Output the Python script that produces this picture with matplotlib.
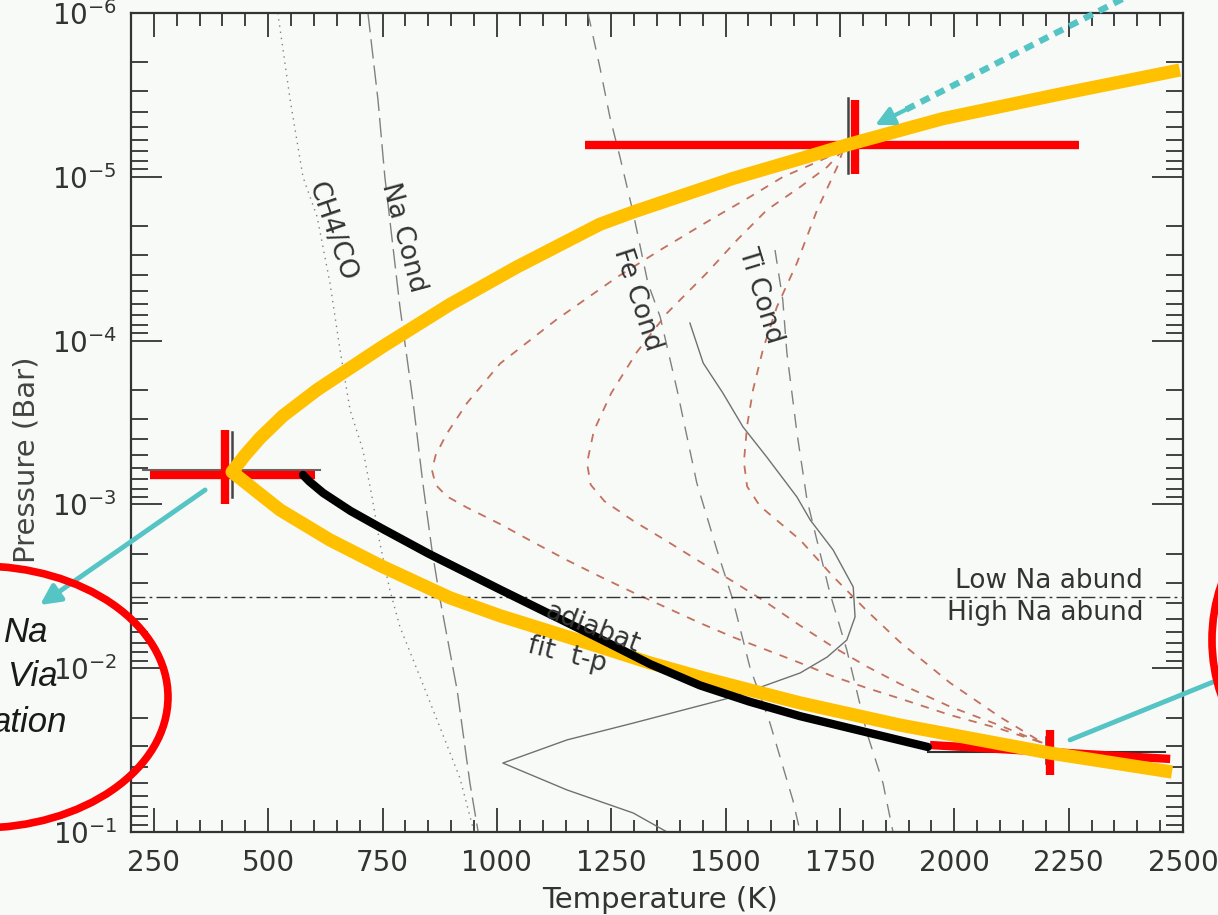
import numpy as np
import matplotlib.pyplot as plt
from matplotlib.patches import Ellipse
from matplotlib.lines import Line2D
from matplotlib.ticker import MultipleLocator, LogLocator, NullFormatter

plt.rcParams['lines.scale_dashes'] = False
plt.rcParams['mathtext.fontset'] = 'dejavusans'
plt.rcParams['font.family'] = ['DejaVu Sans']

# all pressures are log10(P / bar), temperatures in K

# fitted T-P profile (yellow)
fit_T = [2493, 2231, 1975, 1772, 1663, 1516, 1298, 1225, 1044, 897, 751, 607, 532, 482, 449, 421,
         526, 635, 744, 897, 1007, 1116, 1225, 1335, 1444, 1553, 1663, 1881, 2209, 2476]
fit_logp = [-5.652, -5.505, -5.355, -5.200, -5.110, -4.990, -4.785, -4.710, -4.450, -4.220, -3.965,
            -3.700, -3.540, -3.405, -3.300, -3.198,
            -2.966, -2.783, -2.628, -2.430, -2.320, -2.225, -2.130, -2.032, -1.946, -1.867, -1.788,
            -1.653, -1.482, -1.366]

# adiabat (black)
adi_T = [576, 590, 620, 680, 744, 850, 1007, 1225, 1335, 1444, 1553, 1663, 1881, 1942]
adi_logp = [-3.180, -3.140, -3.070, -2.960, -2.860, -2.700, -2.480, -2.180, -2.025, -1.895, -1.795,
            -1.707, -1.560, -1.519]

# model profile with inversion (thin grey)
inv_T = [1422, 1451, 1494, 1538, 1590, 1656, 1685, 1735, 1779, 1783, 1765, 1722, 1663, 1516, 1298,
         1153, 1013, 1153, 1298, 1372]
inv_logp = [-4.107, -3.863, -3.680, -3.473, -3.289, -3.045, -2.905, -2.722, -2.496, -2.313, -2.172,
            -2.068, -1.971, -1.824, -1.665, -1.562, -1.421, -1.257, -1.116, -1.0]

# condensation / chemistry curves
ch4_T = [521, 548, 576, 607, 635, 657, 679, 707, 727, 744, 766, 788, 832, 876, 919, 950]
ch4_logp = [-6.0, -5.469, -4.999, -4.755, -4.352, -3.943, -3.576, -3.332, -3.045, -2.764, -2.477,
            -2.252, -1.946, -1.635, -1.330, -1.0]
na_T = [718, 740, 755, 788, 817, 838, 858, 876, 913, 941, 959]
na_logp = [-6.0, -5.469, -4.999, -4.205, -3.619, -3.131, -2.722, -2.416, -1.867, -1.299, -1.0]
fe_T = [1199, 1225, 1247, 1269, 1298, 1330, 1357, 1394, 1437, 1481, 1516, 1553, 1597, 1647, 1663]
fe_logp = [-6.0, -5.670, -5.365, -5.121, -4.779, -4.352, -4.144, -3.698, -3.131, -2.722, -2.416,
           -2.007, -1.665, -1.195, -1.0]
ti_T = [1608, 1625, 1634, 1656, 1678, 1728, 1765, 1809, 1844, 1866]
ti_logp = [-4.553, -4.248, -3.924, -3.436, -3.027, -2.459, -2.111, -1.604, -1.299, -1.0]

# trial profiles through the two fixed points (brown dashed)
trial_a_T = [1757, 1700, 1625, 1553, 1466, 1357, 1263, 1131, 1007, 935, 890, 866, 858, 866, 890, 935,
             1007, 1079, 1153, 1225, 1298, 1372, 1444, 1516, 1590, 1663, 1735, 1809, 1881, 1991, 2100,
             2194]
trial_a_logp = [-5.164, -5.090, -4.999, -4.877, -4.736, -4.553, -4.388, -4.130, -3.860, -3.620,
                -3.430, -3.300, -3.210, -3.120, -3.050, -2.980, -2.880, -2.770, -2.660, -2.560,
                -2.462, -2.368, -2.276, -2.190, -2.111, -2.032, -1.950, -1.879, -1.815, -1.714,
                -1.630, -1.543]
trial_b_T = [1757, 1722, 1663, 1590, 1525, 1459, 1372, 1306, 1250, 1212, 1197, 1205, 1235, 1298,
             1372, 1444, 1516, 1590, 1663, 1735, 1809, 1881, 1991, 2100, 2194]
trial_b_logp = [-5.164, -5.060, -4.938, -4.797, -4.614, -4.413, -4.168, -3.930, -3.680, -3.450,
                -3.253, -3.120, -3.020, -2.900, -2.775, -2.650, -2.530, -2.400, -2.260, -2.130,
                -2.010, -1.905, -1.765, -1.650, -1.543]
trial_c_T = [1757, 1744, 1700, 1656, 1612, 1582, 1560, 1547, 1540, 1547, 1575, 1663, 1735, 1809,
             1881, 1991, 2100, 2194]
trial_c_logp = [-5.164, -5.060, -4.797, -4.474, -4.205, -3.950, -3.700, -3.480, -3.259, -3.110,
                -2.990, -2.783, -2.560, -2.350, -2.160, -1.910, -1.702, -1.543]

# Na abundance boundary
na_bound_logp = -2.435

# measured points: horizontal bars (T range at logp) and vertical bars (logp range at T)
hbar_T_lo = [241, 1193]
hbar_T_hi = [602, 2273]
hbar_logp = [-3.18, -5.194]
vbar_T = [406, 1783, 2209]
vbar_logp_lo = [-3.454, -5.469, -1.623]
vbar_logp_hi = [-3.002, -5.017, -1.348]
slant_T = [1947, 2472]
slant_logp = [-1.531, -1.446]
# original thin error bars
orig_h_T = [226, 613]
orig_h_logp = -3.21
orig_v_T = [421, 1768, 2200]
orig_v_lo = [-3.44, -5.481, -1.580]
orig_v_hi = [-3.045, -5.023, -1.421]
orig_low_T = [1942, 2461]
orig_low_logp = -1.488

x_ticks = [250, 500, 750, 1000, 1250, 1500, 1750, 2000, 2250, 2500]

bg = '#f8faf8'
yellow = '#ffc000'
red = '#ff0000'
cyan = '#55c4c4'
brown = '#c4705e'
grey = '#808080'
W, H = 1218, 915


def P(v):
    return 10.0 ** np.asarray(v)


fig = plt.figure(figsize=(W / 100, H / 100), dpi=100, facecolor=bg)
ax = fig.add_axes([131 / W, 83 / H, 1052 / W, 819 / H])
ax.set_facecolor(bg)
ax.set_yscale('log')
ax.set_xlim(200, 2500)
ax.set_ylim(1e-1, 1e-6)

# background curves
ax.plot(ch4_T, P(ch4_logp), color=grey, lw=1.0, dashes=(1, 3.5))
ax.plot(na_T, P(na_logp), color=grey, lw=1.0, dashes=(14, 5))
ax.plot(fe_T, P(fe_logp), color=grey, lw=1.0, dashes=(10, 7))
ax.plot(ti_T, P(ti_logp), color=grey, lw=1.0, dashes=(10, 7))
ax.plot(inv_T, P(inv_logp), color='#707070', lw=1.0)
for tt, pp in [(trial_a_T, trial_a_logp), (trial_b_T, trial_b_logp), (trial_c_T, trial_c_logp)]:
    ax.plot(tt, P(pp), color=brown, lw=1.3, dashes=(6, 6))

ax.axhline(10 ** na_bound_logp, color='#333333', lw=1.0, dashes=(10, 3, 2, 3))
ax.annotate('Low Na abund', (2413, 10 ** na_bound_logp), xytext=(0, 2), textcoords='offset points',
            ha='right', va='bottom', fontsize=19, color='#333333')
ax.annotate('High Na abund', (2413, 10 ** na_bound_logp), xytext=(0, -2), textcoords='offset points',
            ha='right', va='top', fontsize=19, color='#333333')

# original thin bars
ax.plot(orig_h_T, P([orig_h_logp] * 2), color='#666666', lw=1.5)
ax.plot(orig_low_T, P([orig_low_logp] * 2), color='#333333', lw=1.5)
for t, lo, hi in zip(orig_v_T, orig_v_lo, orig_v_hi):
    ax.plot([t, t], P([lo, hi]), color='#444444', lw=1.8)

# red bars
for lo, hi, p in zip(hbar_T_lo, hbar_T_hi, hbar_logp):
    ax.plot([lo, hi], P([p, p]), color=red, lw=6, solid_capstyle='butt')
ax.plot(slant_T, P(slant_logp), color=red, lw=6, solid_capstyle='butt')
for t, lo, hi in zip(vbar_T, vbar_logp_lo, vbar_logp_hi):
    ax.plot([t, t], P([lo, hi]), color=red, lw=6, solid_capstyle='butt')

# profiles
ax.plot(fit_T, P(fit_logp), color=yellow, lw=9.5, solid_joinstyle='round', solid_capstyle='butt')
ax.plot(adi_T, P(adi_logp), color='black', lw=6, solid_capstyle='round', solid_joinstyle='round')

# curve labels
lab = dict(fontsize=19, color='#333333', ha='center', va='center', rotation_mode='anchor')
ax.text(639, 10 ** -4.663, 'CH4/CO', rotation=-71, **lab)
ax.text(795, 10 ** -4.632, 'Na Cond', rotation=-75, **lab)
ax.text(1306, 10 ** -4.248, 'Fe Cond', rotation=-72, **lab)
ax.text(1575, 10 ** -4.278, 'Ti Cond', rotation=-73, **lab)
ax.text(1208, 10 ** -2.245, 'adiabat', rotation=-21, **lab)
ax.text(1153, 10 ** -2.081, 'fit  t-p', rotation=-14, **lab)

# axes styling
ax.xaxis.set_major_locator(MultipleLocator(250))
ax.xaxis.set_minor_locator(MultipleLocator(50))
ax.set_xticks(x_ticks)
ax.yaxis.set_major_locator(LogLocator(base=10))
ax.yaxis.set_minor_locator(LogLocator(base=10, subs=np.arange(2, 10)))
ax.yaxis.set_minor_formatter(NullFormatter())
ax.tick_params(which='both', direction='in', top=True, right=True, colors='#333333', width=1.3)
ax.tick_params(axis='x', which='major', length=17, pad=12, labelsize=20)
ax.tick_params(axis='x', which='minor', length=9)
ax.tick_params(axis='y', which='major', length=22, pad=10, labelsize=20)
ax.tick_params(axis='y', which='minor', length=12)
for s in ax.spines.values():
    s.set_color('#333333')
    s.set_linewidth(1.6)

ax.set_xlabel('Temperature (K)', fontsize=21, color='#333333')
ax.xaxis.set_label_coords(0.503, -0.066)
ax.set_ylabel('Pressure (Bar)', fontsize=21, color='#444444')
ax.yaxis.set_label_coords(-0.086, 0.454)

# annotation overlays
tip = ax.transData.transform((1827, 10 ** -5.316))
ax.annotate('', xy=(1827, 10 ** -5.316), xytext=(30, 15), textcoords='offset pixels',
            arrowprops=dict(arrowstyle='-|>', color=cyan, lw=3, mutation_scale=28,
                            shrinkA=0, shrinkB=0), annotation_clip=False)
fig.add_artist(Line2D([1140 / W, (tip[0] + 28) / W], [925 / H, (tip[1] + 14) / H],
                      transform=fig.transFigure, color=cyan, lw=4.5, dashes=(7, 5)))
ax.annotate('', xy=(40, 310), xycoords='figure pixels', xytext=(362, 10 ** -3.088), textcoords='data',
            arrowprops=dict(arrowstyle='-|>', color=cyan, lw=3.5, mutation_scale=30,
                            shrinkA=0, shrinkB=0), annotation_clip=False)
ax.annotate('', xy=(1218, 235), xycoords='figure pixels', xytext=(2253, 10 ** -1.562), textcoords='data',
            arrowprops=dict(arrowstyle='-', color=cyan, lw=3.5, shrinkA=0, shrinkB=0),
            annotation_clip=False)

fig.add_artist(Ellipse((-20 / W, 218 / H), 376 / W, 262 / H, transform=fig.transFigure,
                       fill=False, edgecolor=red, lw=5.5))
fig.add_artist(Ellipse((1332 / W, 275 / H), 240 / W, 288 / H, transform=fig.transFigure,
                       fill=False, edgecolor=red, lw=5.5))

side = dict(fontsize=25, style='italic', color='#1a1a1a', ha='right', va='center',
            family=['Liberation Sans', 'DejaVu Sans'])
fig.text(48 / W, 282 / H, 'Na', **side)
fig.text(58 / W, 238 / H, 'Via', **side)
fig.text(67 / W, 192 / H, 'ation', **side)

fig.savefig('out.png', dpi=100, facecolor=bg)
